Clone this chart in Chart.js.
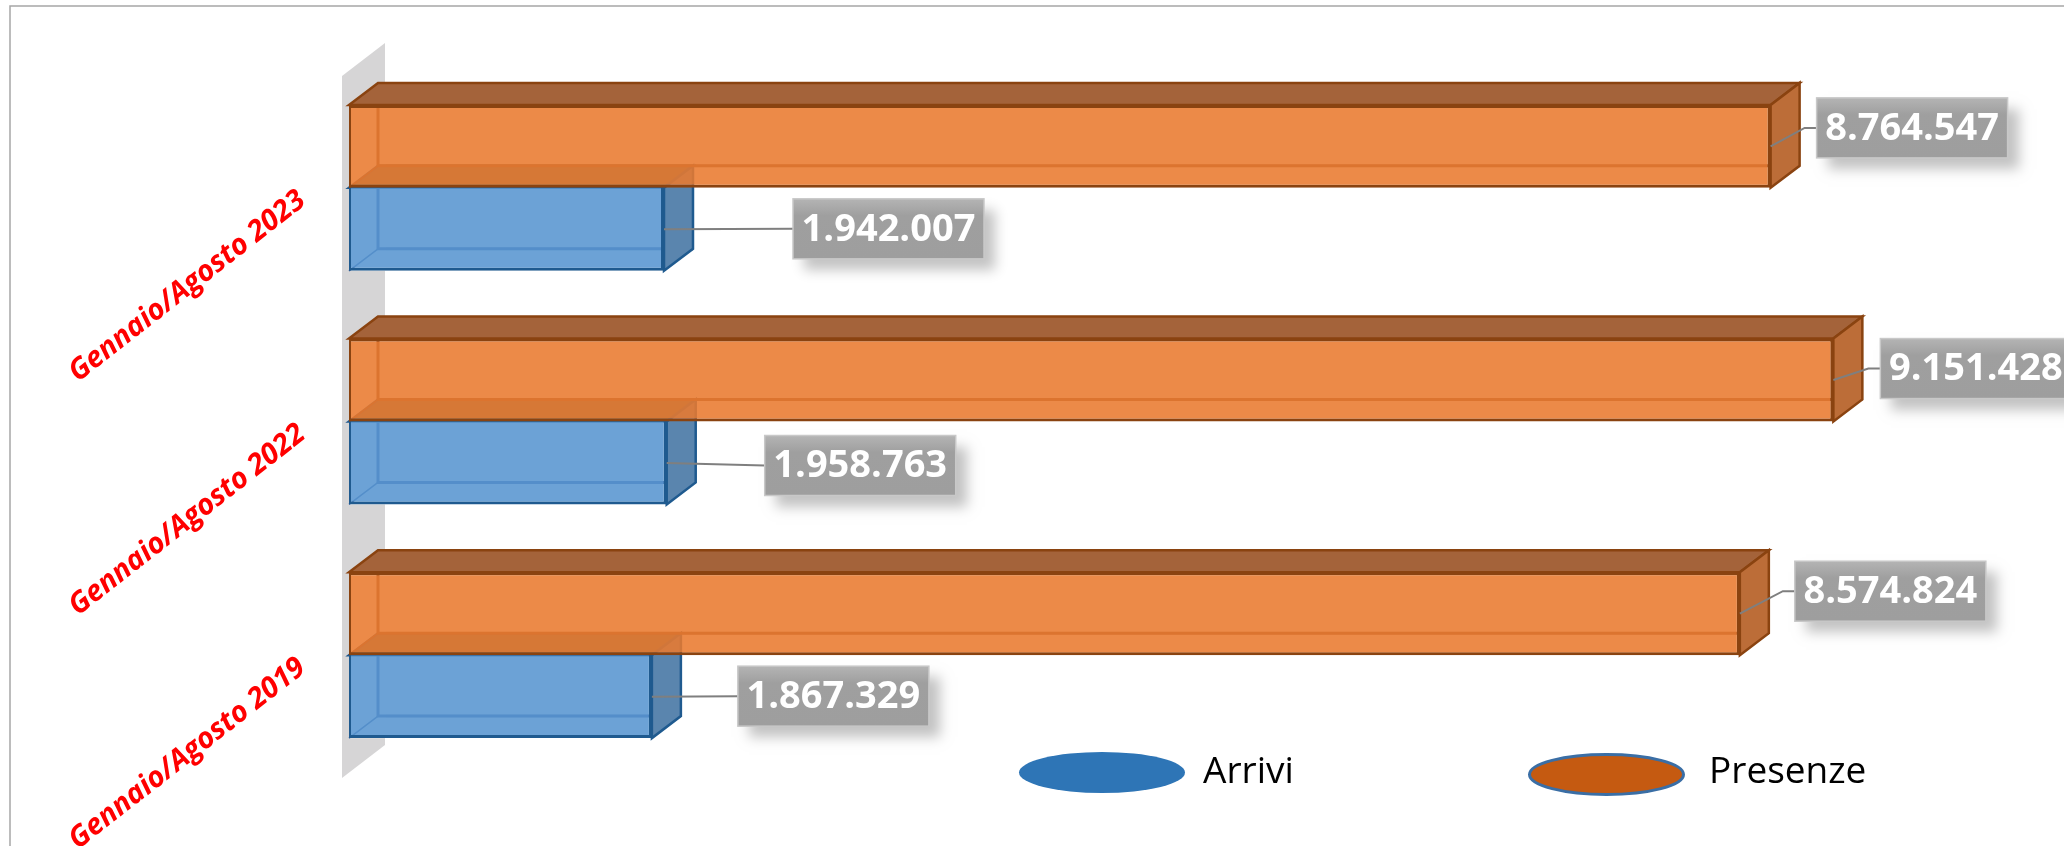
<!DOCTYPE html>
<html>
	<head>
		<title>Arrivi e presenze</title>
		<script src="https://cdnjs.cloudflare.com/ajax/libs/Chart.js/4.3.0/chart.umd.js"></script>
		<style>
			html, body { margin: 0; padding: 0; background: #fff; overflow: hidden; }
			canvas { display: block; }
		</style>
	</head>
	<body>
		<canvas id="myChart" width="2064" height="846"></canvas>
		<script>
			// values
			const categories = ["Gennaio/Agosto 2023", "Gennaio/Agosto 2022", "Gennaio/Agosto 2019"];
			const arrivi = [1942007, 1958763, 1867329];
			const presenze = [8764547, 9151428, 8574824];
			const seriesNames = ["Arrivi", "Presenze"];

			// value label box, offset from the bar's front right / top corner
			const labelOffsetsArrivi = [[129, 11], [98, 14], [86, 11]];
			const labelOffsetsPresenze = [[46, -7], [47, 0], [55, -11]];

			const DEPTH_X = 29;
			const DEPTH_Y = 22;
			const FONT = "'Open Sans'";

			const orange = { front: "rgba(233,122,47,0.88)", edge: "#8a4310", top: "#a4633a", side: "#bc6d38", inner: "#7a4a30" };
			const blue = { front: "rgba(88,149,208,0.88)", edge: "#1f5a8f", top: "#48696f", side: "#5a85ae", inner: "#3a5f98" };

			function poly(ctx, pts, fill, stroke, width) {
				ctx.beginPath();
				ctx.moveTo(pts[0][0], pts[0][1]);
				for (let i = 1; i < pts.length; i++) ctx.lineTo(pts[i][0], pts[i][1]);
				ctx.closePath();
				if (fill) {
					ctx.fillStyle = fill;
					ctx.fill();
				}
				if (stroke) {
					ctx.strokeStyle = stroke;
					ctx.lineWidth = width;
					ctx.stroke();
				}
			}

			function line(ctx, pts, color, width) {
				ctx.beginPath();
				ctx.moveTo(pts[0][0], pts[0][1]);
				for (let i = 1; i < pts.length; i++) ctx.lineTo(pts[i][0], pts[i][1]);
				ctx.strokeStyle = color;
				ctx.lineWidth = width;
				ctx.stroke();
			}

			// keeps the wall from showing through the see-through fronts
			function clearBehind(ctx, bar) {
				ctx.fillStyle = "#fff";
				ctx.fillRect(bar.base, bar.y - bar.height / 2, 37, bar.height);
			}

			// back faces of one bar, the chart paints the front over them
			function drawDepth(ctx, bar, c) {
				const l = bar.base, r = bar.x;
				const t = bar.y - bar.height / 2, b = bar.y + bar.height / 2;
				const dx = DEPTH_X, dy = DEPTH_Y;
				line(ctx, [[l + dx, t - dy], [l + dx, b - dy], [r + dx, b - dy]], c.inner, 3);
				line(ctx, [[l, b], [l + dx, b - dy]], c.inner, 1.5);
				poly(ctx, [[l, t], [l + dx, t - dy], [r + dx, t - dy], [r, t]], c.top, c.edge, 2.5);
				poly(ctx, [[r, t], [r + dx, t - dy], [r + dx, b - dy], [r, b]], c.side, c.edge, 2.5);
			}

			function drawValueLabel(ctx, bar, value, offset) {
				const w = 191, h = 60;
				const bx = bar.x + offset[0];
				const by = bar.y - bar.height / 2 + offset[1];
				const my = by + h / 2;

				// leader line, straight when the box sits far from the bar
				if (offset[0] > 70) {
					line(ctx, [[bar.x, bar.y], [bx, my]], "#7f7f7f", 2);
				} else {
					line(ctx, [[bar.x, bar.y], [bx - 12, my], [bx, my]], "#7f7f7f", 2);
				}

				ctx.save();
				ctx.shadowColor = "rgba(0,0,0,0.24)";
				ctx.shadowOffsetX = 11;
				ctx.shadowOffsetY = 11;
				ctx.shadowBlur = 12;
				ctx.fillStyle = "#9f9f9f";
				ctx.fillRect(bx, by, w, h);
				ctx.restore();

				const grad = ctx.createLinearGradient(0, by, 0, by + h);
				grad.addColorStop(0, "#b4b4b4");
				grad.addColorStop(0.28, "#9f9f9f");
				grad.addColorStop(1, "#9e9e9e");
				ctx.fillStyle = grad;
				ctx.fillRect(bx, by, w, h);
				ctx.strokeStyle = "#c8c8c8";
				ctx.lineWidth = 1.5;
				ctx.strokeRect(bx, by, w, h);

				ctx.fillStyle = "#fff";
				ctx.font = "bold 38px " + FONT;
				ctx.textAlign = "center";
				ctx.textBaseline = "middle";
				ctx.fillText(String(value).replace(/\B(?=(\d{3})+$)/g, "."), bx + w / 2, my + 1);
			}

			const extras = {
				id: "extras",
				beforeDraw(chart) {
					const ctx = chart.ctx;
					const area = chart.chartArea;
					ctx.save();
					// outer frame, runs off the right and bottom of the picture
					ctx.strokeStyle = "#a6a6a6";
					ctx.lineWidth = 1.5;
					ctx.strokeRect(10, 6, 2100, 900);
					// wall behind the bars
					poly(ctx, [
						[area.left - 7, area.top + 5],
						[area.left + 36, area.top - 28],
						[area.left + 36, area.bottom - 27],
						[area.left - 7, area.bottom + 6]
					], "#d6d5d6");
					ctx.restore();
				},
				beforeDatasetsDraw(chart) {
					const ctx = chart.ctx;
					const presenzeBars = chart.getDatasetMeta(0).data;
					const arriviBars = chart.getDatasetMeta(1).data;
					ctx.save();
					presenzeBars.concat(arriviBars).forEach(bar => clearBehind(ctx, bar));
					arriviBars.forEach(bar => drawDepth(ctx, bar, blue));
					presenzeBars.forEach(bar => drawDepth(ctx, bar, orange));
					ctx.restore();
				},
				afterDatasetsDraw(chart) {
					const ctx = chart.ctx;
					ctx.save();
					chart.getDatasetMeta(1).data.forEach((bar, i) => drawValueLabel(ctx, bar, arrivi[i], labelOffsetsArrivi[i]));
					chart.getDatasetMeta(0).data.forEach((bar, i) => drawValueLabel(ctx, bar, presenze[i], labelOffsetsPresenze[i]));

					// legend
					ctx.beginPath();
					ctx.ellipse(1102, 772.5, 83, 20.5, 0, 0, Math.PI * 2);
					ctx.fillStyle = "#2e75b6";
					ctx.fill();
					ctx.beginPath();
					ctx.ellipse(1606.5, 774.5, 77, 20, 0, 0, Math.PI * 2);
					ctx.fillStyle = "#c55a11";
					ctx.fill();
					ctx.strokeStyle = "#3a6ea5";
					ctx.lineWidth = 3;
					ctx.stroke();
					ctx.fillStyle = "#000";
					ctx.font = "37px " + FONT;
					ctx.textAlign = "left";
					ctx.textBaseline = "middle";
					ctx.fillText(seriesNames[0], 1203, 772);
					ctx.fillText(seriesNames[1], 1709, 772);
					ctx.restore();
				}
			};

			var chart = new Chart(document.getElementById("myChart").getContext("2d"), {
				type: "bar",
				plugins: [extras],
				data: {
					labels: categories,
					// Presenze first so it sits above Arrivi in each group
					datasets: [{
						label: seriesNames[1],
						data: presenze,
						backgroundColor: orange.front,
						borderColor: orange.edge,
						borderWidth: { top: 3, right: 3, bottom: 3, left: 2 },
						borderSkipped: false
					},
					{
						label: seriesNames[0],
						data: arrivi,
						backgroundColor: blue.front,
						borderColor: blue.edge,
						borderWidth: { top: 0, right: 3, bottom: 3, left: 2 },
						borderSkipped: false
					}]
				},
				options: {
					indexAxis: "y",
					responsive: false,
					animation: false,
					devicePixelRatio: 1,
					layout: {
						padding: { top: 71, bottom: 74, left: 0, right: 93 }
					},
					datasets: {
						bar: { categoryPercentage: 0.71, barPercentage: 1 }
					},
					plugins: {
						legend: { display: false },
						tooltip: { enabled: false }
					},
					scales: {
						x: {
							display: false,
							min: 0,
							max: 10000000
						},
						y: {
							grid: { display: false, drawTicks: false },
							border: { display: false },
							afterFit(scale) {
								scale.width = 349;
								scale.paddingTop = 0;
								scale.paddingBottom = 0;
							},
							ticks: {
								color: "#ff0000",
								padding: 47,
								labelOffset: 9,
								minRotation: 38,
								maxRotation: 38,
								font: { family: "Open Sans", size: 29, weight: "bold", style: "italic" }
							}
						}
					}
				}
			});
		</script>
	</body>
</html>
